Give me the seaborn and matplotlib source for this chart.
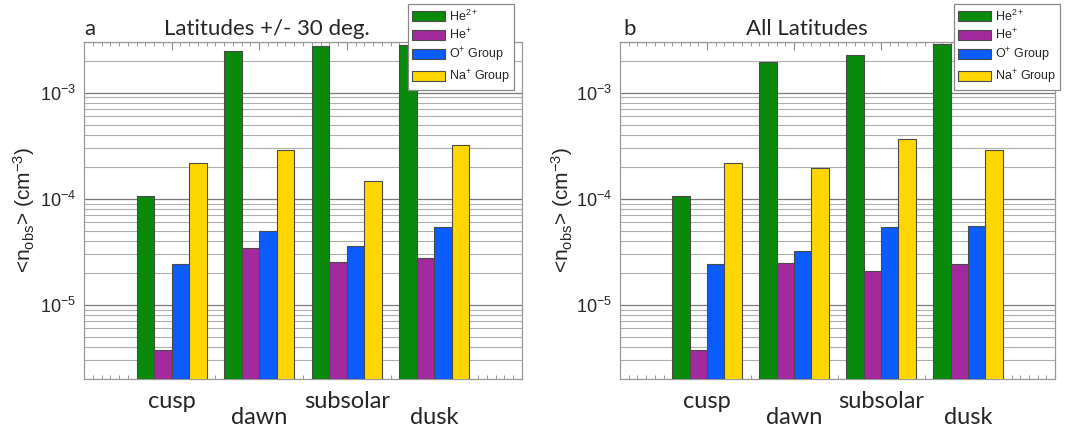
import numpy as np
import pandas as pd
import matplotlib
matplotlib.use("Agg")
import matplotlib.pyplot as plt
import matplotlib.ticker as mticker
from matplotlib.transforms import ScaledTranslation
import seaborn as sns

# ---------------- data ----------------
regions = ["cusp", "dawn", "subsolar", "dusk"]
species = [r"He$^{2+}$", r"He$^{+}$", r"O$^{+}$ Group", r"Na$^{+}$ Group"]

# panel a: latitudes +/- 30 deg (rows: species, cols: regions)
a_he2 = [1.07e-4, 2.46e-3, 2.74e-3, 2.84e-3]
a_he1 = [3.76e-6, 3.47e-5, 2.55e-5, 2.77e-5]
a_oxy = [2.40e-5, 4.92e-5, 3.55e-5, 5.37e-5]
a_na = [2.17e-4, 2.86e-4, 1.46e-4, 3.18e-4]

# panel b: all latitudes
b_he2 = [1.06e-4, 1.95e-3, 2.25e-3, 2.90e-3]
b_he1 = [3.76e-6, 2.47e-5, 2.09e-5, 2.40e-5]
b_oxy = [2.40e-5, 3.23e-5, 5.44e-5, 5.56e-5]
b_na = [2.17e-4, 1.93e-4, 3.66e-4, 2.86e-4]

titles = ["Latitudes +/- 30 deg.", "All Latitudes"]
letters = ["a", "b"]
colors = ["#0a8a0a", "#a32a9c", "#0b5cff", "#ffd600"]


def make_df(series):
    rows = []
    for sp, vals in zip(species, series):
        for r, v in zip(regions, vals):
            rows.append({"region": r, "species": sp, "n": v})
    return pd.DataFrame(rows)


df_a = make_df([a_he2, a_he1, a_oxy, a_na])
df_b = make_df([b_he2, b_he1, b_oxy, b_na])

# ---------------- figure ----------------
sns.set_style("white")
plt.rcParams["font.family"] = ["Liberation Sans", "DejaVu Sans"]
plt.rcParams["mathtext.fontset"] = "custom"
plt.rcParams["mathtext.rm"] = "Liberation Sans"
plt.rcParams["mathtext.it"] = "Liberation Sans:italic"

W, H = 1068, 430
fig = plt.figure(figsize=(W / 100, H / 100), dpi=100)

ax_boxes = [(84, 42, 438, 337), (620, 42, 435, 337)]
legend_pos = [(408, 4), (954, 4)]
title_pos = [(267, 35), (807, 35)]
letter_pos = [(84, 35), (623, 35)]
ylab_x = [24, 562]

for i, df in enumerate([df_a, df_b]):
    x0, y0, w, h = ax_boxes[i]
    ax = fig.add_axes([x0 / W, 1 - (y0 + h) / H, w / W, h / H])
    sns.barplot(data=df, x="region", y="n", hue="species", order=regions,
                hue_order=species, palette=colors, width=0.8,
                edgecolor="#4a4a4a", linewidth=0.8, saturation=1,
                ax=ax, zorder=3)
    ax.set_yscale("log")
    ax.set_ylim(2e-6, 3e-3)
    ax.set_xlim(-1, 4)

    # grid
    ax.set_axisbelow(True)
    ax.yaxis.set_major_locator(mticker.LogLocator(base=10, numticks=10))
    ax.yaxis.set_minor_locator(mticker.LogLocator(base=10, subs=np.arange(2, 10), numticks=20))
    ax.yaxis.set_minor_formatter(mticker.NullFormatter())
    ax.grid(True, axis="y", which="major", color="#7a7a7a", linewidth=0.9)
    ax.grid(True, axis="y", which="minor", color="#b0b0b0", linewidth=0.8)
    ax.grid(False, axis="x")
    ax.tick_params(axis="y", which="both", length=0, labelsize=13, pad=6)

    # x ticks
    ax.xaxis.set_minor_locator(mticker.MultipleLocator(0.1))
    ax.tick_params(axis="x", which="major", direction="in", length=6,
                   top=True, bottom=True, color="#888888", pad=9)
    ax.tick_params(axis="x", which="minor", direction="in", length=3,
                   top=True, bottom=True, color="#888888")
    ax.set_xticks(range(len(regions)))
    ax.set_xticklabels(regions, fontsize=17, family=["Lato", "DejaVu Sans"])
    for j, lab in enumerate(ax.get_xticklabels()):
        if j % 2 == 1:
            lab.set_transform(lab.get_transform() +
                              ScaledTranslation(0, -0.15, fig.dpi_scale_trans))
    ax.set_xlabel("")
    ax.set_ylabel("")

    for sp in ax.spines.values():
        sp.set_color("#999999")
        sp.set_linewidth(0.9)

    # y label
    fig.text(ylab_x[i] / W, 1 - 210 / H, r"<n$_{\rm obs}$> (cm$^{-3}$)",
             rotation=90, ha="center", va="center", fontsize=15)

    # titles
    fig.text(title_pos[i][0] / W, 1 - title_pos[i][1] / H, titles[i],
             ha="center", va="baseline", fontsize=16, family=["Lato", "DejaVu Sans"])
    fig.text(letter_pos[i][0] / W, 1 - letter_pos[i][1] / H, letters[i],
             ha="left", va="baseline", fontsize=16, family=["Lato", "DejaVu Sans"])

    # legend
    handles, labels = ax.get_legend_handles_labels()
    leg = ax.legend(handles, labels, loc="upper left",
                    bbox_to_anchor=(legend_pos[i][0] / W, 1 - legend_pos[i][1] / H),
                    bbox_transform=fig.transFigure, fontsize=9, frameon=True,
                    fancybox=False, framealpha=1, edgecolor="#888888",
                    handlelength=2.6, handleheight=0.8, handletextpad=0.3,
                    labelspacing=0.3, borderpad=0.35, borderaxespad=0)
    leg.get_frame().set_linewidth(0.9)
    leg.set_zorder(10)

fig.savefig("out.png", dpi=100)
